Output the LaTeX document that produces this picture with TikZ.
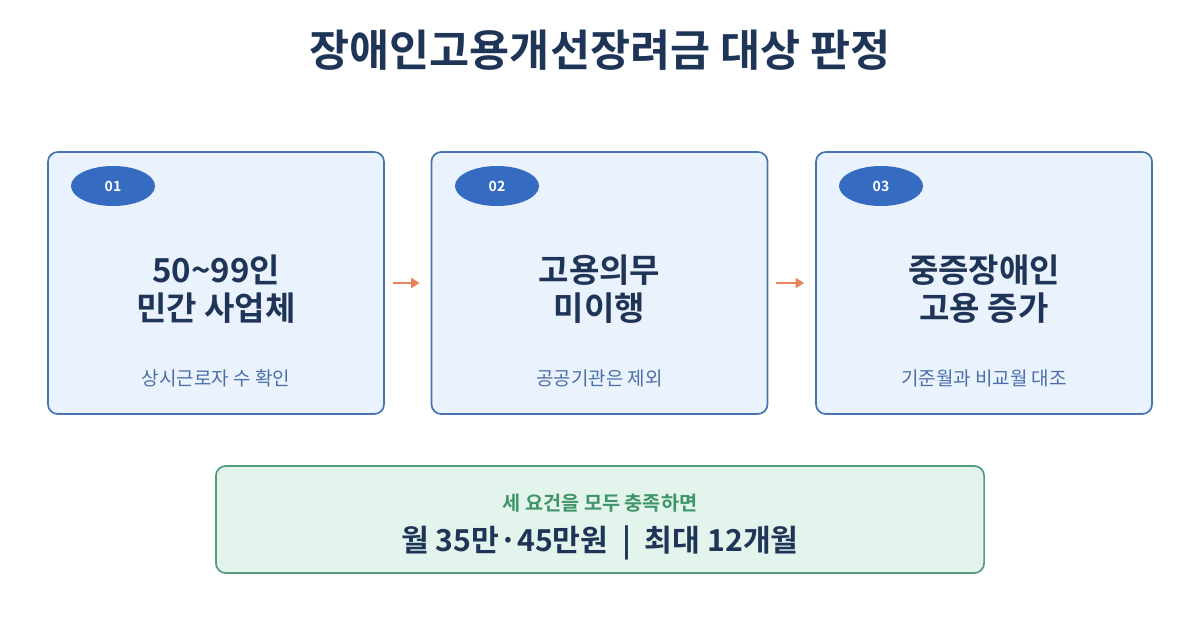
\documentclass[tikz,border=0pt]{standalone}
\usepackage{fontspec}
\setmainfont{Noto Sans CJK KR}[BoldFont={Noto Sans CJK KR Bold}]
\usetikzlibrary{positioning,arrows.meta,shapes.geometric}
\definecolor{navy}{HTML}{1F3557}
\definecolor{boxfill}{HTML}{EAF2FD}
\definecolor{boxline}{HTML}{4A72B0}
\definecolor{badge}{HTML}{356BC0}
\definecolor{subblue}{HTML}{4A6FA8}
\definecolor{arrowc}{HTML}{E8825A}
\definecolor{greenfill}{HTML}{E2F4EB}
\definecolor{greenline}{HTML}{4F9E78}
\definecolor{greentext}{HTML}{3F9468}
\tikzset{
  stepbox/.style={draw=boxline, fill=boxfill, line width=1.2pt, rounded corners=7pt,
    minimum width=336*0.7113pt, minimum height=262*0.7113pt, inner sep=0pt},
  num/.style={ellipse, fill=badge, text=white, font=\bfseries\fontsize{10}{11}\selectfont,
    minimum width=84*0.7113pt, minimum height=40*0.7113pt, inner sep=0pt},
  head/.style={align=center, text=navy, font=\bfseries\fontsize{23.5}{27}\selectfont},
  note/.style={text=subblue, font=\fontsize{13.5}{15}\selectfont},
  flow/.style={-{Triangle[length=6pt,width=7pt]}, draw=arrowc, line width=1.7pt,
    shorten <=5.7pt, shorten >=7.8pt}
}
\begin{document}
\begin{tikzpicture}[x=0.025cm, y=-0.025cm]
  \useasboundingbox (0,0) rectangle (1200,630);

  % title
  \node[text=navy, font=\bfseries\fontsize{31}{34}\selectfont] (title) at (600,50) {장애인고용개선장려금 대상 판정};

  % steps
  \node[stepbox] (s1) at (216,283) {};
  \node[stepbox] (s2) at (599.5,283) {};
  \node[stepbox] (s3) at (984,283) {};

  \node[num] (n1) at (113,186) {01};
  \node[num] (n2) at (497,186) {02};
  \node[num] (n3) at (881,186) {03};

  \node[head] (h1) at (216,289) {50\textasciitilde99인\\민간 사업체};
  \node[head] (h2) at (599.5,289) {고용의무\\미이행};
  \node[head] (h3) at (984,289) {중증장애인\\고용 증가};

  \node[note] (t1) at (216,378) {상시근로자 수 확인};
  \node[note] (t2) at (599.5,378) {공공기관은 제외};
  \node[note] (t3) at (984,378) {기준월과 비교월 대조};

  \draw[flow] (s1.east) -- (s2.west);
  \draw[flow] (s2.east) -- (s3.west);

  % result
  \node[draw=greenline, fill=greenfill, line width=1.2pt, rounded corners=7pt,
    minimum width=768*0.7113pt, minimum height=107*0.7113pt] (res) at (600,519.5) {};
  \node[text=greentext, font=\bfseries\fontsize{14}{16}\selectfont] (cond) at (600,503) {세 요건을 모두 충족하면};
  \node[text=navy, font=\bfseries\fontsize{21.5}{24}\selectfont] (pay) at (600,543) {월 35만·45만원 \ | \ 최대 12개월};
\end{tikzpicture}
\end{document}
